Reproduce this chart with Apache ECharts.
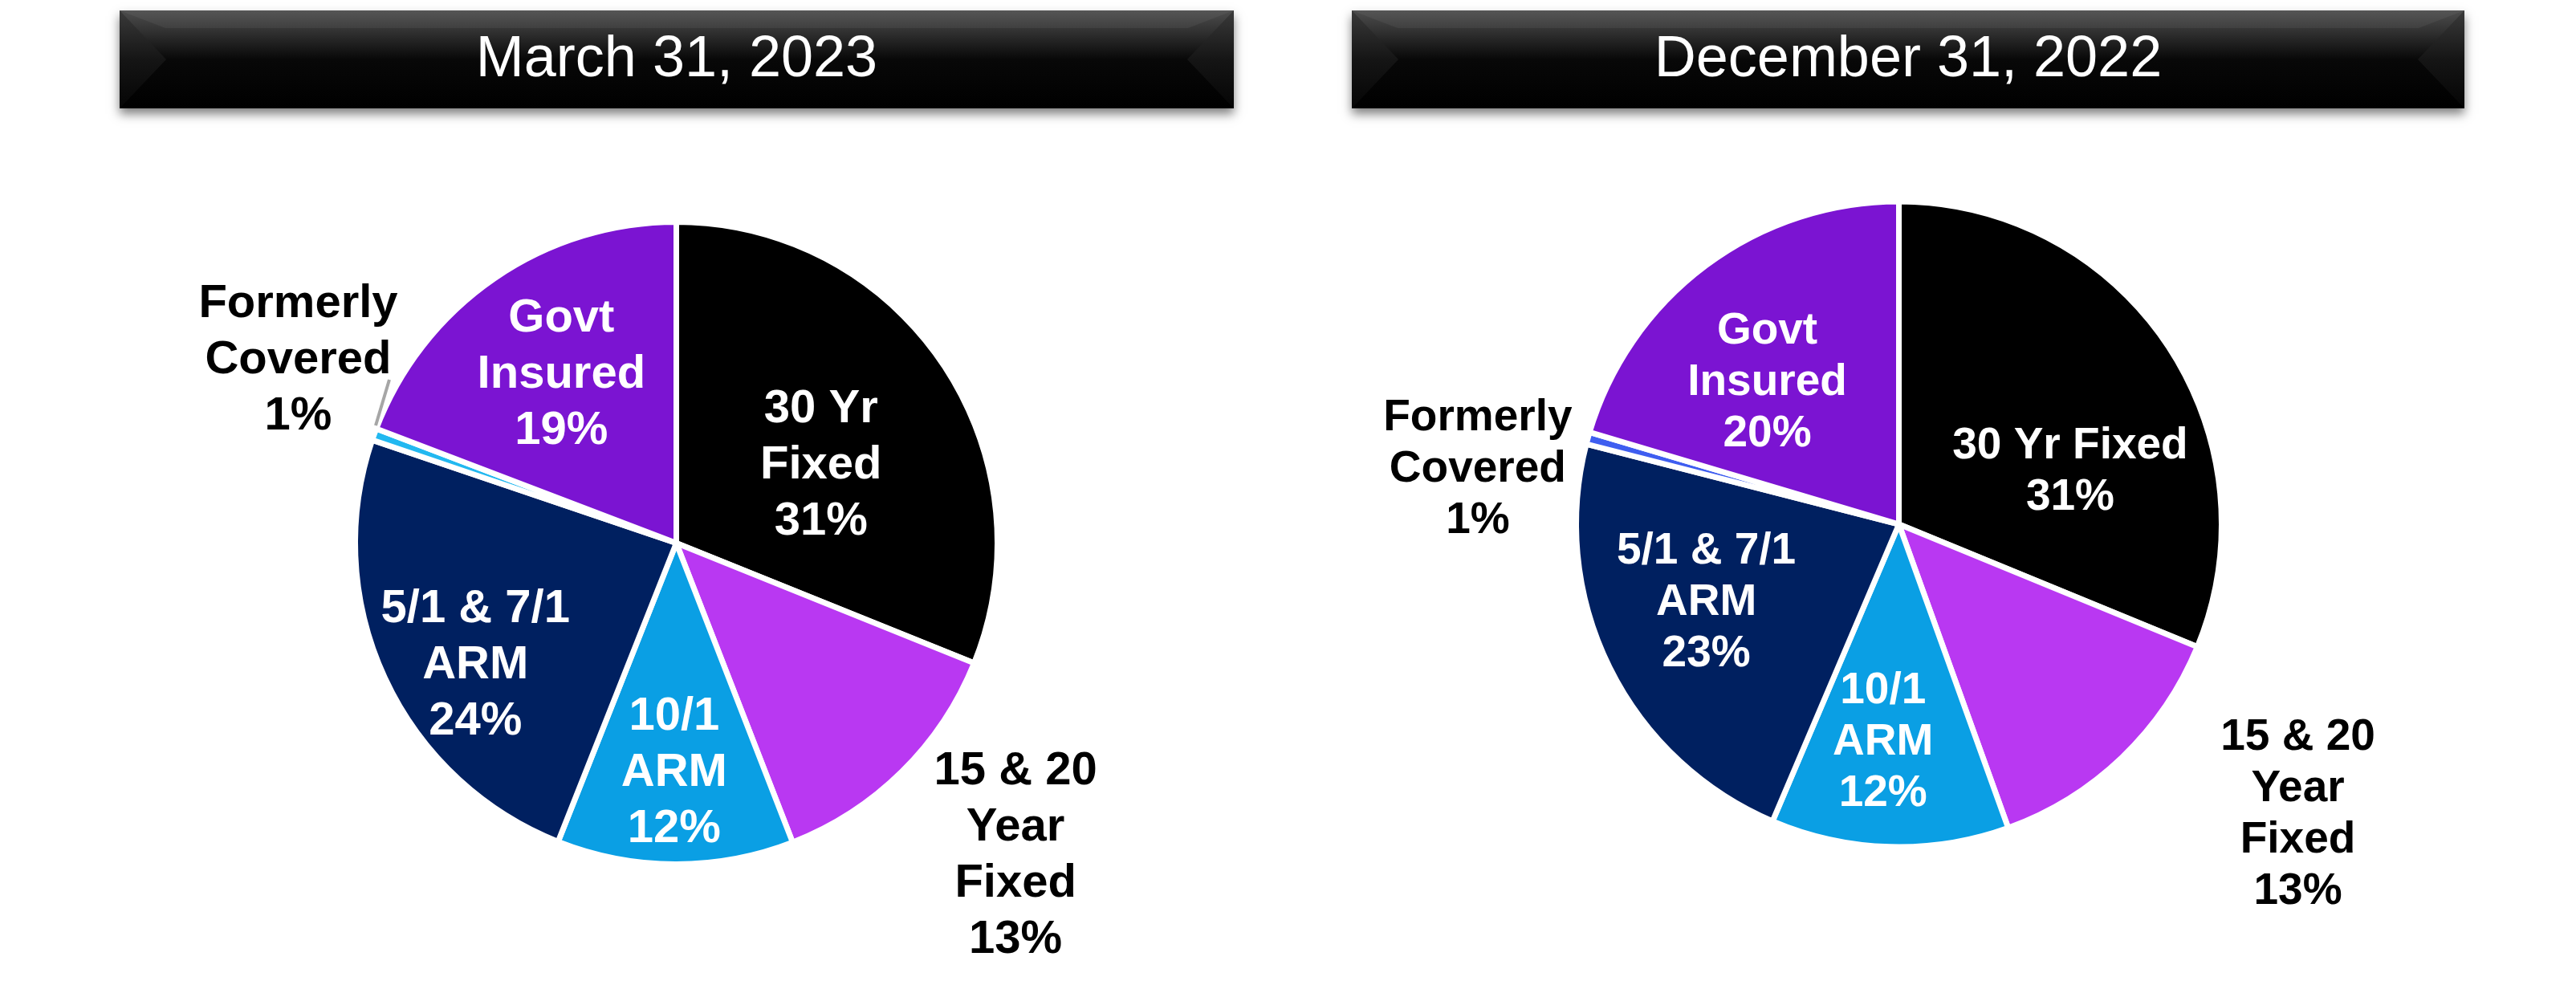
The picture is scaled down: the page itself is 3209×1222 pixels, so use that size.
<!DOCTYPE html>
<html>
<head>
<meta charset="utf-8">
<script src="https://cdn.jsdelivr.net/npm/echarts@6/dist/echarts.min.js"></script>
<style>
html,body{margin:0;padding:0;background:#fff;}
#chart{width:3209px;height:1222px;}
</style>
</head>
<body>
<div id="chart"></div>
<script>
// ---- data ----
const categories = ['30 Yr Fixed', '15 & 20 Year Fixed', '10/1 ARM', '5/1 & 7/1 ARM', 'Formerly Covered', 'Govt Insured'];
const titles = ['March 31, 2023', 'December 31, 2022'];
const mar2023Values = [31.1, 13.0, 11.9, 24.2, 0.6, 19.2];
const dec2022Values = [31.2, 13.3, 11.9, 22.6, 0.6, 20.4];
const mar2023LabelText = ['30 Yr\nFixed', '15 & 20\nYear\nFixed', '10/1\nARM', '5/1 & 7/1\nARM', 'Formerly\nCovered', 'Govt\nInsured'];
const dec2022LabelText = ['30 Yr Fixed', '15 & 20\nYear\nFixed', '10/1\nARM', '5/1 & 7/1\nARM', 'Formerly\nCovered', 'Govt\nInsured'];

// ---- styles ----
const colorsLeft = ['#000000', '#B938F2', '#0A9FE4', '#002060', '#22B8F0', '#7B14D2'];
const colorsRight = ['#000000', '#B938F2', '#0A9FE4', '#002060', '#3F5EF0', '#7B14D2'];
const outsideIdx = [1, 4];
const offsetsLeft = [[12, 17], [280, 245], [-2, 84], [-66, 67], [-280, -159], [-28, -42]];
const offsetsRight = [[44, 48], [356, 214], [-14, 68], [-57, 8], [-328, -14], [-42, -13]];

function buildData(values, colors) {
  return categories.map((name, i) => ({
    name: name,
    value: values[i],
    itemStyle: { color: colors[i] },
    label: { color: outsideIdx.indexOf(i) >= 0 ? '#000000' : '#FFFFFF' }
  }));
}

function pieSeries(values, colors, labelText, center, radius, fontSize, lineHeight, offsets) {
  return {
    type: 'pie',
    center: center,
    radius: radius,
    startAngle: 90,
    clockwise: true,
    avoidLabelOverlap: false,
    silent: true,
    itemStyle: { borderColor: '#FFFFFF', borderWidth: 7 },
    label: {
      show: true,
      position: 'inside',
      fontFamily: '"Liberation Sans", Arial, sans-serif',
      fontWeight: 'bold',
      fontSize: fontSize,
      lineHeight: lineHeight,
      align: 'center',
      formatter: p => labelText[p.dataIndex] + '\n' + Math.round(p.value) + '%'
    },
    labelLine: { show: false },
    labelLayout: function (params) {
      const o = offsets[params.dataIndex];
      return { dx: o[0], dy: o[1], hideOverlap: false, moveOverlap: null };
    },
    emphasis: { disabled: true },
    data: buildData(values, colors)
  };
}

function banner(x0, x1, y0, y1, text) {
  const w = x1 - x0, h = y1 - y0, bev = 58, topB = 22;
  const ym = (y0 + y1) / 2;
  return {
    type: 'group',
    children: [
      { type: 'rect', shape: { x: x0, y: y0, width: w, height: h },
        style: { fill: '#000', shadowBlur: 12, shadowOffsetY: 7, shadowColor: 'rgba(0,0,0,0.5)' } },
      { type: 'rect', shape: { x: x0, y: y0, width: w, height: h },
        style: { fill: new echarts.graphic.LinearGradient(0, 0, 0, 1, [
          { offset: 0, color: '#4d4d4d' }, { offset: 0.2, color: '#333333' },
          { offset: 0.5, color: '#080808' }, { offset: 1, color: '#000000' }]) } },
      { type: 'polygon', shape: { points: [[x0, y0], [x0 + bev, ym], [x0, y1]] },
        style: { fill: new echarts.graphic.LinearGradient(0, 0, 0, 1, [
          { offset: 0, color: '#3a3a3a' }, { offset: 0.5, color: '#151515' }, { offset: 1, color: '#050505' }]) } },
      { type: 'polygon', shape: { points: [[x1, y0], [x1 - bev, ym], [x1, y1]] },
        style: { fill: new echarts.graphic.LinearGradient(0, 0, 0, 1, [
          { offset: 0, color: '#3a3a3a' }, { offset: 0.5, color: '#151515' }, { offset: 1, color: '#050505' }]) } },
      { type: 'polygon', shape: { points: [[x0, y0], [x1, y0], [x1 - topB * 2.6, y0 + topB], [x0 + topB * 2.6, y0 + topB]] },
        style: { fill: new echarts.graphic.LinearGradient(0, 0, 0, 1, [
          { offset: 0, color: '#555555' }, { offset: 1, color: '#404040' }]) } },
      { type: 'text', x: (x0 + x1) / 2, y: ym + 1,
        style: { text: text, fill: '#FFFFFF', fontSize: 72, fontFamily: '"Liberation Sans", Arial, sans-serif',
          align: 'center', verticalAlign: 'middle' } }
    ]
  };
}

const chart = echarts.init(document.getElementById('chart'), null, { renderer: 'canvas' });
chart.setOption({
  animation: false,
  backgroundColor: '#FFFFFF',
  graphic: [
    banner(149, 1537, 13, 135, titles[0]),
    banner(1684, 3070, 13, 135, titles[1]),
    { type: 'line', shape: { x1: 468, y1: 530, x2: 485, y2: 473 },
      style: { stroke: '#A6A6A6', lineWidth: 4 }, z: 10 }
  ],
  series: [
    pieSeries(mar2023Values, colorsLeft, mar2023LabelText, [842.5, 676.5], 400, 58, 70, offsetsLeft),
    pieSeries(dec2022Values, colorsRight, dec2022LabelText, [2365.5, 653], 402, 55, 64, offsetsRight)
  ]
});
</script>
</body>
</html>
